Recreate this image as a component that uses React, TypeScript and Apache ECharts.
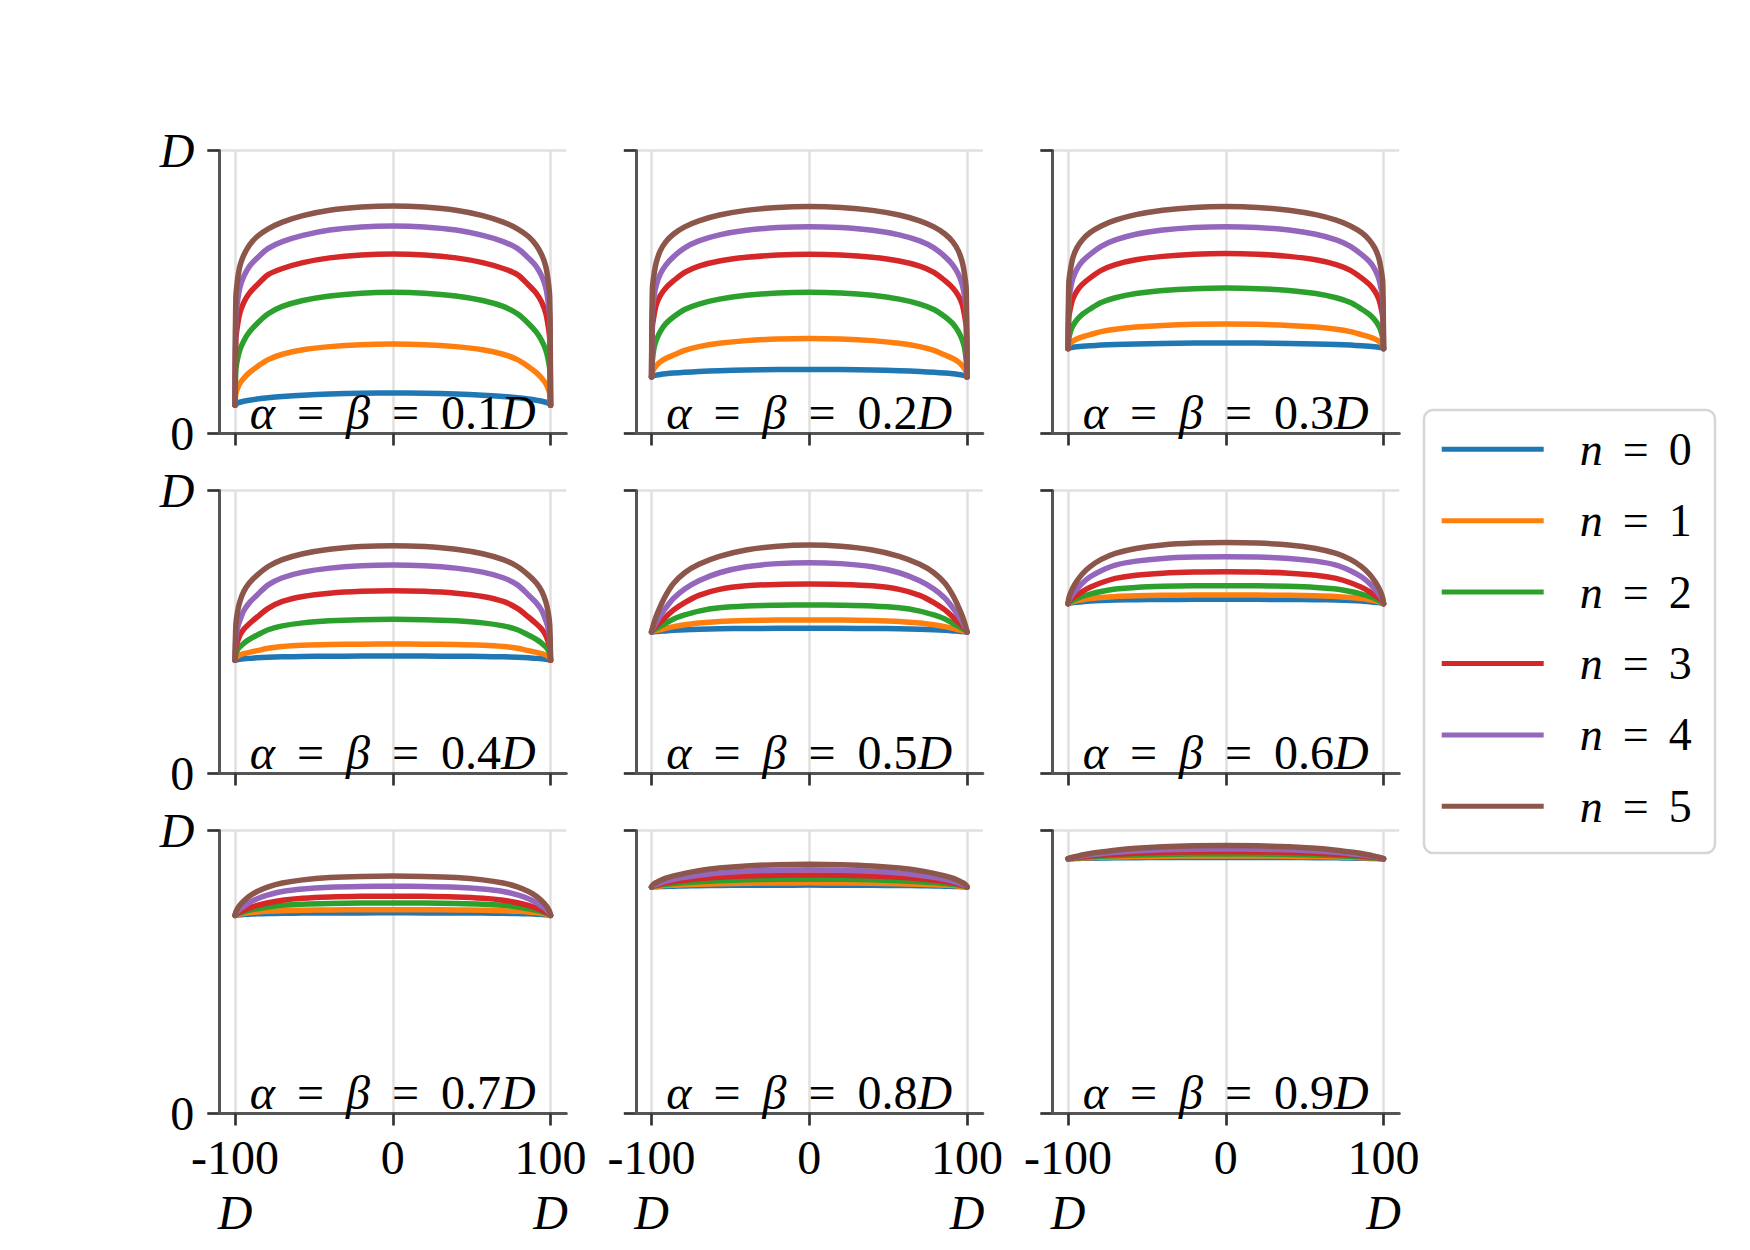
import React, { useEffect, useRef } from 'react';
import * as echarts from 'echarts';

// ---------- data ----------
const XS = [-100, -99.5, -98.5, -97, -94.5, -91, -86, -79, -70, -57, -40, -20, 0, 20, 40, 57, 70, 79, 86, 91, 94.5, 97, 98.5, 99.5, 100];
const N_NAMES = ['n = 0', 'n = 1', 'n = 2', 'n = 3', 'n = 4', 'n = 5'];
const ALPHA_LABELS = ['0.1', '0.2', '0.3', '0.4', '0.5', '0.6', '0.7', '0.8', '0.9'];
const X_TICKS = [-100, 0, 100];
const ANNOT_X = 0;
const ANNOT_Y = 0.075;

const PANEL_1 = [
  [0.1, 0.1043, 0.1074, 0.1104, 0.1141, 0.1178, 0.1219, 0.1264, 0.1307, 0.1353, 0.1394, 0.1421, 0.143, 0.1421, 0.1394, 0.1353, 0.1307, 0.1264, 0.1219, 0.1178, 0.1141, 0.1104, 0.1074, 0.1043, 0.1],
  [0.1, 0.14, 0.158, 0.176, 0.195, 0.215, 0.236, 0.261, 0.28, 0.2958, 0.307, 0.314, 0.316, 0.314, 0.307, 0.2958, 0.28, 0.261, 0.236, 0.215, 0.195, 0.176, 0.158, 0.14, 0.1],
  [0.1, 0.225, 0.262, 0.295, 0.327, 0.358, 0.389, 0.423, 0.449, 0.47, 0.486, 0.496, 0.499, 0.496, 0.486, 0.47, 0.449, 0.423, 0.389, 0.358, 0.327, 0.295, 0.262, 0.225, 0.1],
  [0.1, 0.33, 0.38, 0.425, 0.463, 0.495, 0.525, 0.5615, 0.583, 0.604, 0.6206, 0.631, 0.6345, 0.631, 0.6206, 0.604, 0.583, 0.5615, 0.525, 0.495, 0.463, 0.425, 0.38, 0.33, 0.1],
  [0.1, 0.41, 0.465, 0.515, 0.555, 0.59, 0.62, 0.654, 0.678, 0.7, 0.719, 0.73, 0.7335, 0.73, 0.719, 0.7, 0.678, 0.654, 0.62, 0.59, 0.555, 0.515, 0.465, 0.41, 0.1],
  [0.1, 0.48, 0.54, 0.59, 0.63, 0.665, 0.696, 0.723, 0.747, 0.77, 0.789, 0.8, 0.804, 0.8, 0.789, 0.77, 0.747, 0.723, 0.696, 0.665, 0.63, 0.59, 0.54, 0.48, 0.1],
];
const PANEL_2 = [
  [0.2, 0.2026, 0.2046, 0.2064, 0.2087, 0.211, 0.2135, 0.2162, 0.2189, 0.2218, 0.2243, 0.226, 0.2265, 0.226, 0.2243, 0.2218, 0.2189, 0.2162, 0.2135, 0.211, 0.2087, 0.2064, 0.2046, 0.2026, 0.2],
  [0.2, 0.218, 0.228, 0.24, 0.2532, 0.2649, 0.2772, 0.2938, 0.3071, 0.3188, 0.3282, 0.3341, 0.336, 0.3341, 0.3282, 0.3188, 0.3071, 0.2938, 0.2772, 0.2649, 0.2532, 0.24, 0.228, 0.218, 0.2],
  [0.2, 0.255, 0.3, 0.33, 0.36, 0.388, 0.4126, 0.4383, 0.4574, 0.4748, 0.4882, 0.4964, 0.499, 0.4964, 0.4882, 0.4748, 0.4574, 0.4383, 0.4126, 0.388, 0.36, 0.33, 0.3, 0.255, 0.2],
  [0.2, 0.375, 0.415, 0.455, 0.487, 0.514, 0.54, 0.5695, 0.5914, 0.6095, 0.6224, 0.6304, 0.633, 0.6304, 0.6224, 0.6095, 0.5914, 0.5695, 0.54, 0.514, 0.487, 0.455, 0.415, 0.375, 0.2],
  [0.2, 0.43, 0.483, 0.525, 0.563, 0.595, 0.625, 0.656, 0.6806, 0.702, 0.718, 0.7278, 0.731, 0.7278, 0.718, 0.702, 0.6806, 0.656, 0.625, 0.595, 0.563, 0.525, 0.483, 0.43, 0.2],
  [0.2, 0.51, 0.56, 0.605, 0.645, 0.677, 0.705, 0.73, 0.7514, 0.772, 0.7885, 0.7988, 0.802, 0.7988, 0.7885, 0.772, 0.7514, 0.73, 0.705, 0.677, 0.645, 0.605, 0.56, 0.51, 0.2],
];
const PANEL_3 = [
  [0.3, 0.302, 0.3035, 0.3049, 0.3065, 0.3083, 0.3102, 0.3123, 0.3143, 0.3164, 0.3183, 0.3196, 0.32, 0.3196, 0.3183, 0.3164, 0.3143, 0.3123, 0.3102, 0.3083, 0.3065, 0.3049, 0.3035, 0.302, 0.3],
  [0.3, 0.3126, 0.3199, 0.3265, 0.334, 0.3415, 0.3494, 0.36, 0.3685, 0.376, 0.382, 0.3858, 0.387, 0.3858, 0.382, 0.376, 0.3685, 0.36, 0.3494, 0.3415, 0.334, 0.3265, 0.3199, 0.3126, 0.3],
  [0.3, 0.335, 0.36, 0.38, 0.401, 0.421, 0.44, 0.4627, 0.4796, 0.4944, 0.5052, 0.5119, 0.514, 0.5119, 0.5052, 0.4944, 0.4796, 0.4627, 0.44, 0.421, 0.401, 0.38, 0.36, 0.335, 0.3],
  [0.3, 0.41, 0.443, 0.475, 0.503, 0.527, 0.55, 0.5763, 0.5967, 0.6137, 0.6259, 0.6336, 0.636, 0.6336, 0.6259, 0.6137, 0.5967, 0.5763, 0.55, 0.527, 0.503, 0.475, 0.443, 0.41, 0.3],
  [0.3, 0.47, 0.51, 0.547, 0.58, 0.608, 0.633, 0.6614, 0.6839, 0.7039, 0.7188, 0.7281, 0.731, 0.7281, 0.7188, 0.7039, 0.6839, 0.6614, 0.633, 0.608, 0.58, 0.547, 0.51, 0.47, 0.3],
  [0.3, 0.535, 0.578, 0.62, 0.655, 0.684, 0.71, 0.7335, 0.7538, 0.7733, 0.789, 0.799, 0.802, 0.799, 0.789, 0.7733, 0.7538, 0.7335, 0.71, 0.684, 0.655, 0.62, 0.578, 0.535, 0.3],
];
const PANEL_4 = [
  [0.4, 0.4015, 0.4027, 0.4039, 0.4053, 0.4068, 0.409, 0.4108, 0.4123, 0.4135, 0.4144, 0.4149, 0.415, 0.4149, 0.4144, 0.4135, 0.4123, 0.4108, 0.409, 0.4068, 0.4053, 0.4039, 0.4027, 0.4015, 0.4],
  [0.4, 0.4086, 0.4138, 0.4184, 0.4233, 0.4282, 0.434, 0.4423, 0.4487, 0.453, 0.4556, 0.457, 0.4576, 0.457, 0.4556, 0.453, 0.4487, 0.4423, 0.434, 0.4282, 0.4233, 0.4184, 0.4138, 0.4086, 0.4],
  [0.4, 0.424, 0.436, 0.447, 0.46, 0.474, 0.489, 0.5081, 0.5217, 0.5322, 0.5394, 0.5437, 0.545, 0.5437, 0.5394, 0.5322, 0.5217, 0.5081, 0.489, 0.474, 0.46, 0.447, 0.436, 0.424, 0.4],
  [0.4, 0.445, 0.466, 0.488, 0.51, 0.529, 0.553, 0.5834, 0.6079, 0.6256, 0.6371, 0.6439, 0.646, 0.6439, 0.6371, 0.6256, 0.6079, 0.5834, 0.553, 0.529, 0.51, 0.488, 0.466, 0.445, 0.4],
  [0.4, 0.48, 0.513, 0.54, 0.575, 0.603, 0.631, 0.6665, 0.6916, 0.7115, 0.7257, 0.7343, 0.737, 0.7343, 0.7257, 0.7115, 0.6916, 0.6665, 0.631, 0.603, 0.575, 0.54, 0.513, 0.48, 0.4],
  [0.4, 0.525, 0.57, 0.607, 0.643, 0.673, 0.701, 0.7314, 0.7556, 0.7766, 0.7925, 0.802, 0.805, 0.802, 0.7925, 0.7766, 0.7556, 0.7314, 0.701, 0.673, 0.643, 0.607, 0.57, 0.525, 0.4],
];
const PANEL_5 = [
  [0.5, 0.5004, 0.5009, 0.5016, 0.5025, 0.5039, 0.5058, 0.5078, 0.5098, 0.5114, 0.5124, 0.5129, 0.513, 0.5129, 0.5124, 0.5114, 0.5098, 0.5078, 0.5058, 0.5039, 0.5025, 0.5016, 0.5009, 0.5004, 0.5],
  [0.5, 0.5013, 0.503, 0.5051, 0.5081, 0.5127, 0.519, 0.5254, 0.5318, 0.5373, 0.5405, 0.542, 0.5424, 0.542, 0.5405, 0.5373, 0.5318, 0.5254, 0.519, 0.5127, 0.5081, 0.5051, 0.503, 0.5013, 0.5],
  [0.5, 0.5031, 0.507, 0.5119, 0.5196, 0.5305, 0.546, 0.5601, 0.5739, 0.5854, 0.5921, 0.5946, 0.5954, 0.5946, 0.5921, 0.5854, 0.5739, 0.5601, 0.546, 0.5305, 0.5196, 0.5119, 0.507, 0.5031, 0.5],
  [0.5, 0.5056, 0.513, 0.5215, 0.5343, 0.553, 0.578, 0.604, 0.6296, 0.6507, 0.6632, 0.6682, 0.6696, 0.6682, 0.6632, 0.6507, 0.6296, 0.604, 0.578, 0.553, 0.5343, 0.5215, 0.513, 0.5056, 0.5],
  [0.5, 0.5071, 0.519, 0.5348, 0.5573, 0.5852, 0.619, 0.6517, 0.681, 0.7094, 0.7305, 0.7416, 0.745, 0.7416, 0.7305, 0.7094, 0.681, 0.6517, 0.619, 0.5852, 0.5573, 0.5348, 0.519, 0.5071, 0.5],
  [0.5, 0.5122, 0.5313, 0.5562, 0.5898, 0.6296, 0.6721, 0.7096, 0.7393, 0.7675, 0.7898, 0.8029, 0.807, 0.8029, 0.7898, 0.7675, 0.7393, 0.7096, 0.6721, 0.6296, 0.5898, 0.5562, 0.5313, 0.5122, 0.5],
];
const PANEL_6 = [
  [0.6, 0.6008, 0.6023, 0.6039, 0.6054, 0.6071, 0.6093, 0.6112, 0.6129, 0.6141, 0.615, 0.6153, 0.6155, 0.6153, 0.615, 0.6141, 0.6129, 0.6112, 0.6093, 0.6071, 0.6054, 0.6039, 0.6023, 0.6008, 0.6],
  [0.6, 0.6015, 0.6046, 0.6077, 0.6107, 0.6141, 0.6184, 0.6221, 0.6255, 0.6279, 0.6296, 0.6304, 0.6307, 0.6304, 0.6296, 0.6279, 0.6255, 0.6221, 0.6184, 0.6141, 0.6107, 0.6077, 0.6046, 0.6015, 0.6],
  [0.6, 0.6032, 0.607, 0.6115, 0.6178, 0.6255, 0.634, 0.6433, 0.6516, 0.6576, 0.6613, 0.6631, 0.6637, 0.6631, 0.6613, 0.6576, 0.6516, 0.6433, 0.634, 0.6255, 0.6178, 0.6115, 0.607, 0.6032, 0.6],
  [0.6, 0.6057, 0.613, 0.6203, 0.6294, 0.6429, 0.658, 0.674, 0.6893, 0.7006, 0.7079, 0.7119, 0.713, 0.7119, 0.7079, 0.7006, 0.6893, 0.674, 0.658, 0.6429, 0.6294, 0.6203, 0.613, 0.6057, 0.6],
  [0.6, 0.6105, 0.622, 0.635, 0.6508, 0.6725, 0.695, 0.7167, 0.7366, 0.7505, 0.76, 0.7646, 0.766, 0.7646, 0.76, 0.7505, 0.7366, 0.7167, 0.695, 0.6725, 0.6508, 0.635, 0.622, 0.6105, 0.6],
  [0.6, 0.6197, 0.6373, 0.6556, 0.679, 0.7049, 0.7309, 0.7564, 0.7777, 0.795, 0.8075, 0.8141, 0.816, 0.8141, 0.8075, 0.795, 0.7777, 0.7564, 0.7309, 0.7049, 0.679, 0.6556, 0.6373, 0.6197, 0.6],
];
const PANEL_7 = [
  [0.7, 0.7005, 0.7014, 0.7023, 0.7032, 0.7041, 0.7054, 0.7065, 0.7075, 0.7082, 0.7087, 0.7089, 0.709, 0.7089, 0.7087, 0.7082, 0.7075, 0.7065, 0.7054, 0.7041, 0.7032, 0.7023, 0.7014, 0.7005, 0.7],
  [0.7, 0.701, 0.703, 0.705, 0.707, 0.7092, 0.712, 0.7144, 0.7166, 0.7182, 0.7193, 0.7198, 0.72, 0.7198, 0.7193, 0.7182, 0.7166, 0.7144, 0.712, 0.7092, 0.707, 0.705, 0.703, 0.701, 0.7],
  [0.7, 0.7022, 0.7048, 0.7079, 0.7123, 0.7176, 0.7235, 0.7299, 0.7356, 0.7398, 0.7423, 0.7436, 0.744, 0.7436, 0.7423, 0.7398, 0.7356, 0.7299, 0.7235, 0.7176, 0.7123, 0.7079, 0.7048, 0.7022, 0.7],
  [0.7, 0.7034, 0.7078, 0.7122, 0.7177, 0.7258, 0.7349, 0.7445, 0.7537, 0.7605, 0.7649, 0.7673, 0.768, 0.7673, 0.7649, 0.7605, 0.7537, 0.7445, 0.7349, 0.7258, 0.7177, 0.7122, 0.7078, 0.7034, 0.7],
  [0.7, 0.7065, 0.7136, 0.7217, 0.7315, 0.745, 0.7589, 0.7724, 0.7847, 0.7934, 0.7993, 0.8021, 0.803, 0.8021, 0.7993, 0.7934, 0.7847, 0.7724, 0.7589, 0.745, 0.7315, 0.7217, 0.7136, 0.7065, 0.7],
  [0.7, 0.7126, 0.724, 0.7358, 0.7508, 0.7675, 0.7842, 0.8006, 0.8143, 0.8255, 0.8335, 0.8377, 0.839, 0.8377, 0.8335, 0.8255, 0.8143, 0.8006, 0.7842, 0.7675, 0.7508, 0.7358, 0.724, 0.7126, 0.7],
];
const PANEL_8 = [
  [0.8, 0.8004, 0.8008, 0.8012, 0.8018, 0.8025, 0.8032, 0.804, 0.8048, 0.8057, 0.8064, 0.8068, 0.807, 0.8068, 0.8064, 0.8057, 0.8048, 0.804, 0.8032, 0.8025, 0.8018, 0.8012, 0.8008, 0.8004, 0.8],
  [0.8, 0.8008, 0.8017, 0.8025, 0.8038, 0.8053, 0.8068, 0.8085, 0.8102, 0.8122, 0.8137, 0.8147, 0.815, 0.8147, 0.8137, 0.8122, 0.8102, 0.8085, 0.8068, 0.8053, 0.8038, 0.8025, 0.8017, 0.8008, 0.8],
  [0.8, 0.8015, 0.8031, 0.8046, 0.807, 0.8098, 0.8126, 0.8158, 0.819, 0.8227, 0.8256, 0.8274, 0.828, 0.8274, 0.8256, 0.8227, 0.819, 0.8158, 0.8126, 0.8098, 0.807, 0.8046, 0.8031, 0.8015, 0.8],
  [0.8, 0.8024, 0.8047, 0.8071, 0.8108, 0.8151, 0.8194, 0.8243, 0.8292, 0.8348, 0.8393, 0.8421, 0.843, 0.8421, 0.8393, 0.8348, 0.8292, 0.8243, 0.8194, 0.8151, 0.8108, 0.8071, 0.8047, 0.8024, 0.8],
  [0.8, 0.8034, 0.8067, 0.8101, 0.8153, 0.8214, 0.8275, 0.8345, 0.8415, 0.8494, 0.8558, 0.8597, 0.861, 0.8597, 0.8558, 0.8494, 0.8415, 0.8345, 0.8275, 0.8214, 0.8153, 0.8101, 0.8067, 0.8034, 0.8],
  [0.8, 0.8057, 0.8113, 0.8162, 0.8235, 0.8316, 0.8397, 0.8486, 0.8575, 0.8672, 0.8749, 0.8794, 0.881, 0.8794, 0.8749, 0.8672, 0.8575, 0.8486, 0.8397, 0.8316, 0.8235, 0.8162, 0.8113, 0.8057, 0.8],
];
const PANEL_9 = [
  [0.9, 0.9002, 0.9004, 0.9006, 0.901, 0.9015, 0.902, 0.9026, 0.9033, 0.904, 0.9045, 0.9049, 0.905, 0.9049, 0.9045, 0.904, 0.9033, 0.9026, 0.902, 0.9015, 0.901, 0.9006, 0.9004, 0.9002, 0.9],
  [0.9, 0.9003, 0.9007, 0.9012, 0.9019, 0.9029, 0.904, 0.9052, 0.9065, 0.9079, 0.9091, 0.9098, 0.91, 0.9098, 0.9091, 0.9079, 0.9065, 0.9052, 0.904, 0.9029, 0.9019, 0.9012, 0.9007, 0.9003, 0.9],
  [0.9, 0.9005, 0.9012, 0.902, 0.9032, 0.9049, 0.9068, 0.9088, 0.9111, 0.9134, 0.9154, 0.9166, 0.917, 0.9166, 0.9154, 0.9134, 0.9111, 0.9088, 0.9068, 0.9049, 0.9032, 0.902, 0.9012, 0.9005, 0.9],
  [0.9, 0.9008, 0.9018, 0.903, 0.9048, 0.9073, 0.91, 0.913, 0.9163, 0.9198, 0.9226, 0.9244, 0.925, 0.9244, 0.9226, 0.9198, 0.9163, 0.913, 0.91, 0.9073, 0.9048, 0.903, 0.9018, 0.9008, 0.9],
  [0.9, 0.9011, 0.9025, 0.9042, 0.9067, 0.9102, 0.914, 0.9182, 0.9228, 0.9277, 0.9317, 0.9341, 0.935, 0.9341, 0.9317, 0.9277, 0.9228, 0.9182, 0.914, 0.9102, 0.9067, 0.9042, 0.9025, 0.9011, 0.9],
  [0.9, 0.9014, 0.9033, 0.9056, 0.9089, 0.9136, 0.9188, 0.9244, 0.9306, 0.9371, 0.9425, 0.9458, 0.947, 0.9458, 0.9425, 0.9371, 0.9306, 0.9244, 0.9188, 0.9136, 0.9089, 0.9056, 0.9033, 0.9014, 0.9],
];
const PANELS = [PANEL_1, PANEL_2, PANEL_3, PANEL_4, PANEL_5, PANEL_6, PANEL_7, PANEL_8, PANEL_9];

// ---------- style / layout ----------
const COLORS = ['#1f77b4', '#ff7f0e', '#2ca02c', '#d62728', '#9467bd', '#8c564b'];
const FONT = '"Liberation Serif", "DejaVu Serif", serif';
const GRID_LEFTS = [219.3, 635.8, 1052.3];
const GRID_TOPS = [150.5, 490.5, 830.5];
const GRID_W = 347;
const GRID_H = 283;
const SPINE = '#555555';
const TICK = '#333333';
const GRIDC = '#e0e0e0';

const baseText = { fontFamily: FONT, fontSize: 48, color: '#000000' };

function buildOption() {
  const grid: any[] = [];
  const xAxis: any[] = [];
  const yAxis: any[] = [];
  const series: any[] = [];
  for (let p = 0; p < 9; p++) {
    const row = Math.floor(p / 3);
    const col = p % 3;
    grid.push({ left: GRID_LEFTS[col], top: GRID_TOPS[row], width: GRID_W, height: GRID_H });
    xAxis.push({
      type: 'value',
      gridIndex: p,
      min: -110,
      max: 110,
      z: 1,
      axisLine: { show: true, onZero: false, lineStyle: { color: SPINE, width: 3 } },
      axisTick: {
        show: true,
        customValues: X_TICKS,
        length: 12,
        inside: false,
        lineStyle: { color: TICK, width: 2.7 },
      },
      axisLabel: {
        show: row === 2,
        customValues: X_TICKS,
        margin: 16,
        formatter: (v: number) => (v === 0 ? '{a|0}' : `{a|${v}}\n{i|D}`),
        rich: {
          a: { ...baseText, lineHeight: 55 },
          i: { ...baseText, lineHeight: 55, fontStyle: 'italic' },
        },
      },
      splitLine: { show: true, lineStyle: { color: GRIDC, width: 2.5 } },
    });
    yAxis.push({
      type: 'value',
      gridIndex: p,
      min: 0,
      max: 1,
      interval: 1,
      z: 0,
      axisLine: { show: true, onZero: false, lineStyle: { color: SPINE, width: 3 } },
      axisTick: { show: true, length: 12, inside: false, lineStyle: { color: TICK, width: 2.7 } },
      axisLabel: {
        show: col === 0,
        margin: 25,
        formatter: (v: number) => (v === 1 ? '{i|D}' : '{a|0}'),
        rich: {
          a: { ...baseText },
          i: { ...baseText, fontStyle: 'italic' },
        },
      },
      splitLine: { show: true, lineStyle: { color: GRIDC, width: 2.5 } },
    });
    PANELS[p].forEach((vals, n) => {
      series.push({
        type: 'line',
        name: N_NAMES[n],
        xAxisIndex: p,
        yAxisIndex: p,
        data: XS.map((x, j) => [x, vals[j]]),
        showSymbol: false,
        symbol: 'none',
        smooth: 0.3,
        lineStyle: { color: COLORS[n], width: 5.5, cap: 'round', join: 'round' },
        itemStyle: { color: COLORS[n] },
        z: 2 + n * 0.01,
        silent: true,
      });
    });
    series.push({
      type: 'scatter',
      xAxisIndex: p,
      yAxisIndex: p,
      data: [[ANNOT_X, ANNOT_Y]],
      symbolSize: 1,
      itemStyle: { color: 'rgba(0,0,0,0)' },
      silent: true,
      z: 5,
      label: {
        show: true,
        position: 'inside',
        color: '#000000',
        textBorderWidth: 0,
        opacity: 1,
        formatter: `{i|α}{e|=}{i|β}{e|=}{t|${ALPHA_LABELS[p]}}{i|D}`,
        rich: {
          i: { ...baseText, fontStyle: 'italic' },
          e: { ...baseText, padding: [0, 22, 0, 22] },
          t: { ...baseText },
        },
      },
    });
  }

  const legText = { fontFamily: FONT, fontSize: 46, color: '#000000', lineHeight: 48 };
  return {
    animation: false,
    backgroundColor: '#ffffff',
    grid,
    xAxis,
    yAxis,
    series,
    legend: {
      show: true,
      orient: 'vertical',
      left: 1441.7,
      top: 425.3,
      padding: 0,
      itemWidth: 102,
      itemHeight: 5,
      itemGap: 23.4,
      icon: 'rect',
      itemStyle: { borderWidth: 0 },
      data: N_NAMES,
      formatter: (name: string) => `{g| }{i|n}{e|=}{t|${name.slice(-1)}}`,
      textStyle: {
        ...legText,
        rich: {
          g: { ...legText, width: 31 },
          i: { ...legText, fontStyle: 'italic' },
          e: { ...legText, padding: [0, 20, 0, 20] },
          t: { ...legText },
        },
      },
    },
    graphic: [
      {
        type: 'rect',
        z: 0,
        shape: { x: 1424, y: 410, width: 291, height: 443, r: 9 },
        style: { fill: '#ffffff', stroke: '#d6d6d6', lineWidth: 2.5 },
        silent: true,
      },
    ],
  };
}

export default function App() {
  const ref = useRef<HTMLDivElement>(null);
  useEffect(() => {
    document.body.style.margin = '0';
    if (!ref.current) return;
    const chart = echarts.init(ref.current, undefined, { renderer: 'svg' });
    chart.setOption(buildOption() as any);
    return () => {
      chart.dispose();
    };
  }, []);
  return <div ref={ref} style={{ width: 1750, height: 1250 }} />;
}
